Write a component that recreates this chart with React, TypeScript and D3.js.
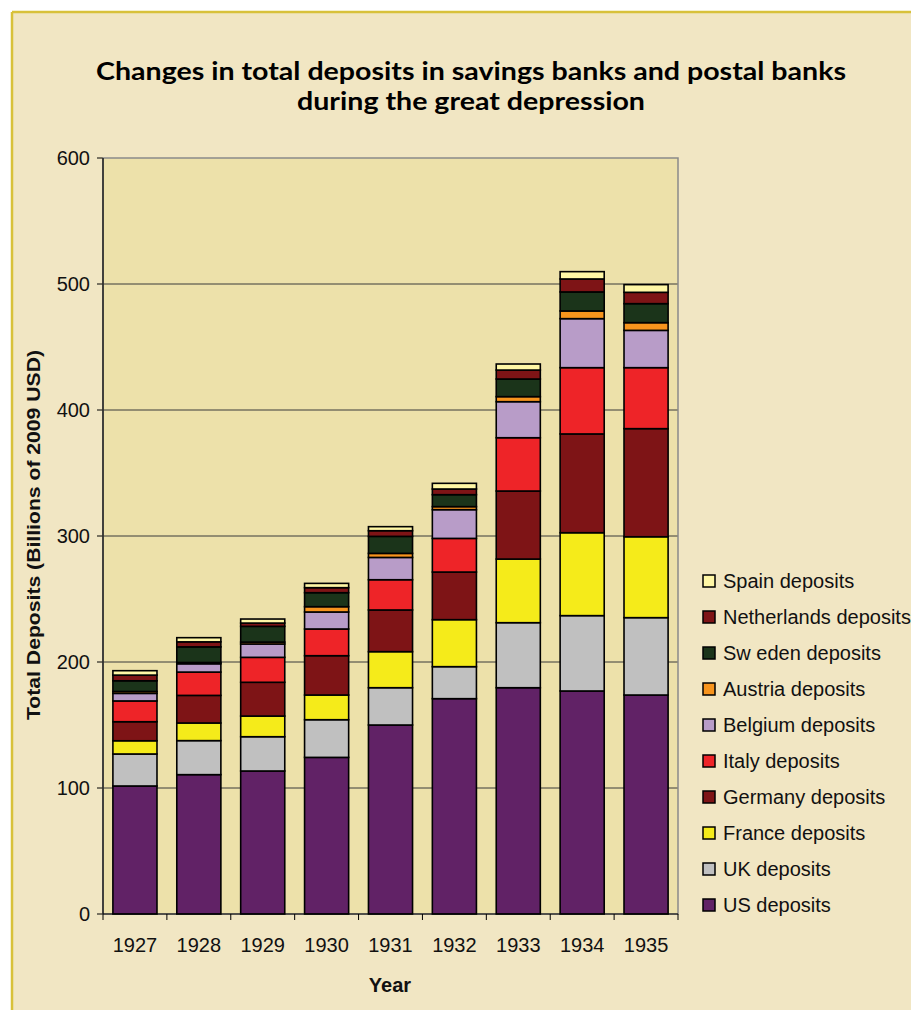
import React from "react";
import * as d3 from "d3";

const years = ["1927", "1928", "1929", "1930", "1931", "1932", "1933", "1934", "1935"];
const seriesNames = [
  "US deposits",
  "UK deposits",
  "France deposits",
  "Germany deposits",
  "Italy deposits",
  "Belgium deposits",
  "Austria deposits",
  "Sweden deposits",
  "Netherlands deposits",
  "Spain deposits",
];
const legendLabels = [
  "US deposits",
  "UK deposits",
  "France deposits",
  "Germany deposits",
  "Italy deposits",
  "Belgium deposits",
  "Austria deposits",
  "Sw eden deposits",
  "Netherlands deposits",
  "Spain deposits",
];
const usDeposits = [101.6, 110.6, 113.5, 124.3, 150, 170.9, 179.6, 177, 173.8];
const ukDeposits = [25.4, 27, 27.2, 29.9, 29.6, 25.4, 51.6, 59.8, 61.4];
const franceDeposits = [10.5, 14, 16.4, 19.6, 28.6, 37.3, 50.5, 65.8, 64.2];
const germanyDeposits = [15.1, 21.9, 26.8, 31.2, 33.1, 37.8, 54, 78.4, 85.8];
const italyDeposits = [16.5, 18.5, 19.8, 21.2, 24, 26.7, 42.3, 52.6, 48.4];
const belgiumDeposits = [6, 6.6, 10.6, 13.5, 17.7, 22.8, 28.6, 38.9, 29.6];
const austriaDeposits = [1.5, 1, 1.5, 4.2, 3.2, 2.4, 4, 6.1, 6.1];
const swedenDeposits = [8.5, 12.4, 12.5, 11.1, 13.5, 9.5, 14, 15.1, 15.1];
const netherlandsDeposits = [4.5, 4, 2.6, 4, 4.5, 4.5, 7.1, 10.3, 9];
const spainDeposits = [3.5, 3.3, 3.2, 3.4, 3.2, 4.5, 4.8, 5.8, 6.1];
const yTicks = [0, 100, 200, 300, 400, 500, 600];

const colors = [
  "#612266",
  "#C0C0C0",
  "#F5EB1A",
  "#7E1416",
  "#EE2428",
  "#B89CC8",
  "#F7941D",
  "#1B341A",
  "#7E1416",
  "#FFF7A6",
];

const allSeries = [
  usDeposits,
  ukDeposits,
  franceDeposits,
  germanyDeposits,
  italyDeposits,
  belgiumDeposits,
  austriaDeposits,
  swedenDeposits,
  netherlandsDeposits,
  spainDeposits,
];

export default function App() {
  const W = 911;
  const H = 1010;
  const left = 103;
  const right = 678;
  const top = 158;
  const bottom = 914;
  const font = "'Liberation Sans', Arial, sans-serif";

  const table = years.map((y, i) => {
    const row: any = { year: y };
    seriesNames.forEach((s, k) => (row[s] = allSeries[k][i]));
    return row;
  });
  const stack = d3.stack<any>().keys(seriesNames)(table);

  const x = d3
    .scaleBand<string>()
    .domain(years)
    .range([left, right])
    .paddingInner(0.31)
    .paddingOuter(0.155);
  const y = d3.scaleLinear().domain([0, 600]).range([bottom, top]);
  const step = x.step();

  return (
    <div style={{ position: "absolute", left: 0, top: 0 }}>
      <svg width={W} height={H} style={{ display: "block" }}>
        <rect x={0} y={0} width={W} height={H} fill="#ffffff" />
        <rect x={12} y={12} width={W} height={H} fill="#F1E6C3" />
        <line x1={12} y1={12} x2={W} y2={12} stroke="#D8C13A" strokeWidth={2.5} />
        <line x1={12} y1={12} x2={12} y2={H} stroke="#D8C13A" strokeWidth={2.5} />

        <text
          x={471}
          y={80}
          textAnchor="middle"
          fontFamily="Lato, 'Open Sans', sans-serif"
          fontWeight="bold"
          fontSize={24}
          textLength={750}
          lengthAdjust="spacingAndGlyphs"
          fill="#000"
        >
          Changes in total deposits in savings banks and postal banks
        </text>
        <text
          x={471}
          y={110}
          textAnchor="middle"
          fontFamily="Lato, 'Open Sans', sans-serif"
          fontWeight="bold"
          fontSize={24}
          textLength={348}
          lengthAdjust="spacingAndGlyphs"
          fill="#000"
        >
          during the great depression
        </text>

        <rect x={left} y={top} width={right - left} height={bottom - top} fill="#EDE1AA" />
        {yTicks.map((t) => (
          <g key={t}>
            {t > 0 && t < 600 && (
              <line x1={left} x2={right} y1={y(t)} y2={y(t)} stroke="#3a3a3a" strokeWidth={1} />
            )}
            <line x1={left - 6} x2={left} y1={y(t)} y2={y(t)} stroke="#000" strokeWidth={1} />
            <text
              x={left - 13}
              y={y(t) + 7}
              textAnchor="end"
              fontFamily={font}
              fontSize={20}
              fill="#111"
            >
              {t}
            </text>
          </g>
        ))}
        <rect
          x={left}
          y={top}
          width={right - left}
          height={bottom - top}
          fill="none"
          stroke="#8a8a8a"
          strokeWidth={1.5}
        />

        {stack.map((layer, k) => (
          <g key={layer.key}>
            {layer.map((d, i) => (
              <rect
                key={i}
                x={x(years[i])}
                y={y(d[1])}
                width={x.bandwidth()}
                height={y(d[0]) - y(d[1])}
                fill={colors[k]}
                stroke="#000"
                strokeWidth={1.6}
              />
            ))}
          </g>
        ))}

        <line x1={left} x2={left} y1={top} y2={bottom} stroke="#000" strokeWidth={1.2} />
        <line x1={left} x2={right} y1={bottom} y2={bottom} stroke="#000" strokeWidth={1.2} />
        {years.map((yr, i) => (
          <g key={yr}>
            <line
              x1={left + step * (i + 1)}
              x2={left + step * (i + 1)}
              y1={bottom}
              y2={bottom + 6}
              stroke="#000"
              strokeWidth={1}
            />
            <text
              x={(x(yr) as number) + x.bandwidth() / 2}
              y={952}
              textAnchor="middle"
              fontFamily={font}
              fontSize={20}
              fill="#111"
            >
              {yr}
            </text>
          </g>
        ))}
        <line x1={left} x2={left} y1={bottom} y2={bottom + 6} stroke="#000" strokeWidth={1} />

        <text
          x={390}
          y={992}
          textAnchor="middle"
          fontFamily={font}
          fontWeight="bold"
          fontSize={20}
          fill="#111"
        >
          Year
        </text>
        <text
          transform="translate(40,535) rotate(-90)"
          textAnchor="middle"
          fontFamily={font}
          fontWeight="bold"
          fontSize={19}
          textLength={370}
          lengthAdjust="spacingAndGlyphs"
          fill="#111"
        >
          Total Deposits (Billions of 2009 USD)
        </text>

        {legendLabels
          .map((lab, k) => ({ lab, k }))
          .reverse()
          .map(({ lab, k }, j) => {
            const cy = 581 + j * 36;
            return (
              <g key={lab}>
                <rect
                  x={703}
                  y={cy - 6}
                  width={12}
                  height={12}
                  fill={colors[k]}
                  stroke="#000"
                  strokeWidth={1.5}
                />
                <text x={723} y={cy + 7} fontFamily={font} fontSize={20} fill="#111">
                  {lab}
                </text>
              </g>
            );
          })}
      </svg>
    </div>
  );
}
